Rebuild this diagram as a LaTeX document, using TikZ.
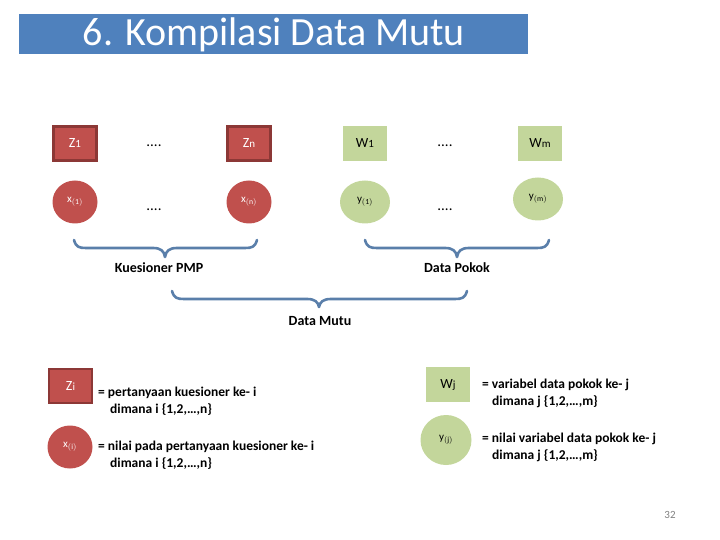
\documentclass[tikz,border=0pt]{standalone}
\usepackage{fontspec}
\setmainfont{Carlito}
\definecolor{titleblue}{HTML}{4F81BD}
\definecolor{zred}{HTML}{C0504D}
\definecolor{zredborder}{HTML}{8C3836}
\definecolor{wgreen}{HTML}{C3D69B}
\definecolor{bracecol}{HTML}{5A7FAA}
\definecolor{pagegray}{HTML}{808080}
\tikzset{
  zbox/.style={draw=zredborder, line width=2.5pt, fill=zred, minimum width=43pt, minimum height=34pt, inner sep=0pt, text=white, font=\fontsize{14}{16}\selectfont},
  xcirc/.style={ellipse, fill=zred, minimum width=45pt, minimum height=43pt, inner sep=0pt, text=white, font=\fontsize{11}{13}\selectfont},
  wbox/.style={fill=wgreen, minimum width=44pt, minimum height=35pt, inner sep=0pt, text=black, font=\fontsize{14}{16}\selectfont},
  ycirc/.style={ellipse, fill=wgreen, minimum width=50pt, minimum height=43pt, inner sep=0pt, text=black, font=\fontsize{11}{13}\selectfont},
  dotstxt/.style={font=\fontsize{15}{16}\selectfont, inner sep=0pt},
  bracepath/.style={draw=bracecol, line width=2.6pt, line cap=round, line join=round},
  bracelabel/.style={font=\bfseries\fontsize{14}{16}\selectfont, inner sep=0pt},
  legtxt/.style={font=\bfseries\fontsize{13.5}{17}\selectfont, inner sep=0pt, anchor=west, align=left},
}
\usetikzlibrary{shapes.geometric}
\begin{document}
\begin{tikzpicture}[x=1pt,y=-1pt]
\useasboundingbox (0,0) rectangle (720,540);
% title
\node[fill=titleblue, minimum width=509pt, minimum height=40pt, inner sep=0pt, anchor=north west] (titlebar) at (19,14) {};
\node[text=white, font=\fontsize{40}{44}\selectfont, inner sep=0pt] (title) at (274,35) {6. Kompilasi Data Mutu};
% top row
\node[zbox] (z1) at (75,143.5) {Z{\fontsize{11}{12}\selectfont 1}};
\node[dotstxt] (d1) at (154,146) {....};
\node[zbox] (zn) at (249,143.5) {Z{\fontsize{11}{12}\selectfont n}};
\node[wbox] (w1) at (365,143.5) {W{\fontsize{11}{12}\selectfont 1}};
\node[dotstxt] (d2) at (445,146) {....};
\node[wbox] (wm) at (540,143.5) {W{\fontsize{11}{12}\selectfont m}};
% second row
\node[xcirc] (x1) at (75,202) {x$_{\mathrm{(1)}}$};
\node[dotstxt] (d3) at (154,210) {....};
\node[xcirc] (xn) at (249,202) {x$_{\mathrm{(n)}}$};
\node[ycirc] (y1) at (365,202) {y$_{\mathrm{(1)}}$};
\node[dotstxt] (d4) at (445,210) {....};
\node[ycirc] (ym) at (538,199) {y$_{\mathrm{(m)}}$};
% braces
\coordinate (b1l) at (74,240); \coordinate (b1t) at (165,257); \coordinate (b1r) at (257,240);
\draw[bracepath] (b1l) .. controls (76,247) and (79,248) .. (86,248) -- (153,248) .. controls (161,248) and (164,251) .. (b1t)
  .. controls (166,251) and (169,248) .. (177,248) -- (245,248) .. controls (252,248) and (255,247) .. (b1r);
\node[bracelabel] (kpmp) at (159,268) {Kuesioner PMP};
\coordinate (b2l) at (365,240); \coordinate (b2t) at (457,257); \coordinate (b2r) at (549,240);
\draw[bracepath] (b2l) .. controls (367,247) and (370,248) .. (377,248) -- (445,248) .. controls (453,248) and (456,251) .. (b2t)
  .. controls (458,251) and (461,248) .. (469,248) -- (537,248) .. controls (544,248) and (547,247) .. (b2r);
\node[bracelabel] (dpokok) at (457,268) {Data Pokok};
\coordinate (b3l) at (172,291); \coordinate (b3t) at (319,307); \coordinate (b3r) at (467,291);
\draw[bracepath] (b3l) .. controls (174,298) and (177,299) .. (184,299) -- (307,299) .. controls (315,299) and (318,302) .. (b3t)
  .. controls (320,302) and (323,299) .. (331,299) -- (455,299) .. controls (462,299) and (465,298) .. (b3r);
\node[bracelabel] (dmutu) at (320,321) {Data Mutu};
% legend left
\node[zbox] (zi) at (70.5,386) {Z{\fontsize{11}{12}\selectfont i}};
\node[legtxt] (zitxt) at (98,401) {= pertanyaan kuesioner ke- i\\\hspace*{12pt}dimana i \{1,2,…,n\}};
\node[xcirc] (xi) at (70,447) {x$_{\mathrm{(i)}}$};
\node[legtxt] (xitxt) at (98,455) {= nilai pada pertanyaan kuesioner ke- i\\\hspace*{12pt}dimana i \{1,2,…,n\}};
% legend right
\node[wbox, minimum width=44pt] (wj) at (448,384.5) {W{\fontsize{11}{12}\selectfont j}};
\node[legtxt] (wjtxt) at (482,393) {= variabel data pokok ke- j\\\hspace*{10pt}dimana j \{1,2,…,m\}};
\node[ycirc, minimum width=51pt, minimum height=50pt] (yj) at (446,440) {y$_{\mathrm{(j)}}$};
\node[legtxt] (yjtxt) at (482,447) {= nilai variabel data pokok ke- j\\\hspace*{10pt}dimana j \{1,2,…,m\}};
% page number
\node[text=pagegray, font=\fontsize{11}{13}\selectfont, inner sep=0pt] (pnum) at (670,515) {32};
\end{tikzpicture}
\end{document}
